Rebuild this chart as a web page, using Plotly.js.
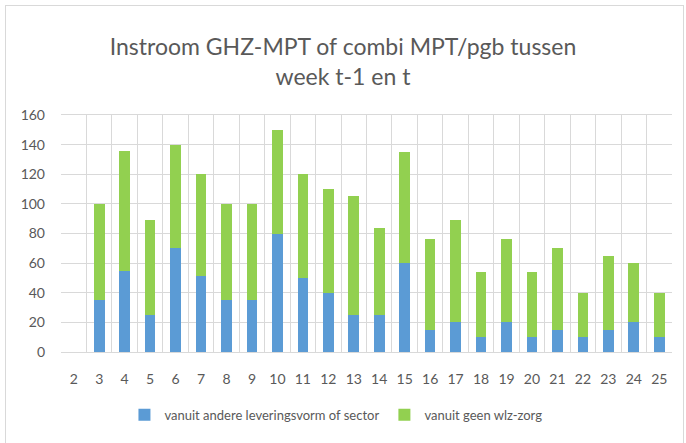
<!DOCTYPE html>
<html>
<head>
<meta charset="utf-8">
<script src="https://cdn.plot.ly/plotly-3.0.1.min.js"></script>
<style>
html,body{margin:0;padding:0;background:#fff;}
#wrap{position:relative;width:686px;height:443px;}
#chart{position:absolute;left:0;top:0;width:686px;height:443px;}
#frame{position:absolute;left:5px;top:5px;width:677px;height:445px;border:1px solid #d9d9d9;pointer-events:none;}
</style>
</head>
<body>
<div id="wrap"><div id="chart"></div><div id="frame"></div></div>
<script>
const weeks = ["2","3","4","5","6","7","8","9","10","11","12","13","14","15","16","17","18","19","20","21","22","23","24","25"];
const andereLeveringsvorm = [0,35,55,25,70,51,35,35,80,50,40,25,25,60,15,20,10,20,10,15,10,15,20,10];
const geenWlzZorg = [0,65,81,64,70,69,65,65,70,70,70,80,59,75,61,69,44,56,44,55,30,50,40,30];

const font = "Lato, 'Open Sans', sans-serif";
const data = [
  {type:"bar", name:"vanuit andere leveringsvorm of sector", x:weeks, y:andereLeveringsvorm,
   marker:{color:"#5b9bd5"}},
  {type:"bar", name:"vanuit geen wlz-zorg", x:weeks, y:geenWlzZorg,
   marker:{color:"#92d050"}}
];
const layout = {
  width:686, height:443,
  barmode:"stack", bargap:0.58,
  paper_bgcolor:"#ffffff", plot_bgcolor:"#ffffff",
  margin:{l:61, r:14, t:115, b:91},
  font:{family:font, color:"#595959", size:14},
  title:{text:"Instroom GHZ-MPT of combi MPT/pgb tussen<br>week t-1 en t", x:0.5, xanchor:"center",
         yref:"container", y:1-55/443, yanchor:"top", font:{family:font, size:23, color:"#595959"}},
  xaxis:{type:"category", tickson:"boundaries", showgrid:true, gridcolor:"#d9d9d9", gridwidth:1,
         ticks:"", showline:true, linecolor:"#d9d9d9", mirror:true, tickfont:{size:14},
         ticklabelstandoff:14},
  yaxis:{range:[0,160], dtick:20, showgrid:true, gridcolor:"#d9d9d9", gridwidth:1, zeroline:true,
         zerolinecolor:"#d9d9d9", showline:false, ticks:"", tickfont:{size:14}, ticklabelstandoff:15},
  legend:{orientation:"h", x:0.45, xanchor:"center", y:-0.265, yanchor:"middle",
          font:{size:13, color:"#595959"}, traceorder:"normal"},
  showlegend:true
};
Plotly.newPlot("chart", data, layout, {displayModeBar:false, staticPlot:true});
</script>
</body>
</html>
